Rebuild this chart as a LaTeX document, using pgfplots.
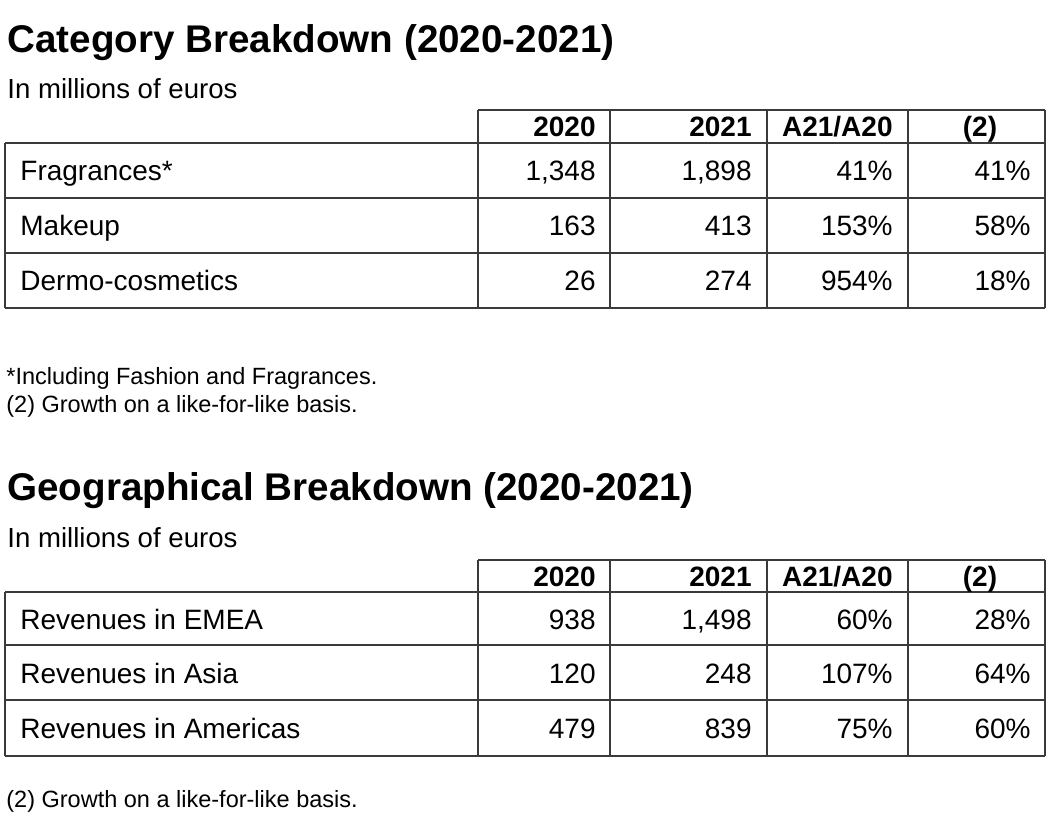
\documentclass[border=0pt]{standalone}
\usepackage{pgfplots}
\usepackage{pgfplotstable}
\pgfplotsset{compat=1.18}
\usepackage{fontspec}
\setmainfont{Liberation Sans}
\definecolor{rule}{HTML}{3A3A3A}
\tikzset{hd/.style={inner sep=0pt, font=\bfseries\fontsize{14}{16}\selectfont}}

\pgfplotstableread[col sep=semicolon, row sep=\\]{
y;label;a;b;r;l\\
180.5;Fragrances*;1,348;1,898;41;41\\
235.5;Makeup;163;413;153;58\\
290.5;Dermo-cosmetics;26;274;954;18\\
}\catA
\pgfplotstableread[col sep=semicolon, row sep=\\]{
y;label;a;b;r;l\\
629;Revenues in EMEA;938;1,498;60;28\\
683;Revenues in Asia;120;248;107;64\\
738;Revenues in Americas;479;839;75;60\\
}\geoA

\begin{document}
\begin{tikzpicture}
\begin{axis}[
  x=0.5pt, y=0.5pt, y dir=reverse,
  xmin=0, xmax=1048, ymin=0, ymax=822,
  hide axis, clip=false,
  every axis plot/.append style={mark=none},
  cell/.style={draw=none, nodes near coords, point meta=explicit symbolic,
     nodes near coords align={anchor=base east},
     every node near coord/.append style={inner sep=0pt, font=\fontsize{14}{16}\selectfont, text=black}},
  lcell/.style={draw=none, nodes near coords, point meta=explicit symbolic,
     nodes near coords align={anchor=base west},
     every node near coord/.append style={inner sep=0pt, font=\fontsize{14}{16}\selectfont, text=black}},
]
\addplot[draw=none] coordinates {(0,0) (1048,822)};

% ---- grid lines
\addplot[rule, line width=1pt, unbounded coords=jump] coordinates {
 (478,110) (1045,110) (nan,nan)
 (5,143) (1045,143) (nan,nan)
 (5,198) (1045,198) (nan,nan)
 (5,253) (1045,253) (nan,nan)
 (5,308) (1045,308) (nan,nan)
 (5,143) (5,308) (nan,nan)
 (478,110) (478,308) (nan,nan)
 (610,110) (610,308) (nan,nan)
 (767,110) (767,308) (nan,nan)
 (908,110) (908,308) (nan,nan)
 (1045,110) (1045,308)
};
\addplot[rule, line width=1pt, unbounded coords=jump] coordinates {
 (478,560) (1045,560) (nan,nan)
 (5,592) (1045,592) (nan,nan)
 (5,645) (1045,645) (nan,nan)
 (5,700) (1045,700) (nan,nan)
 (5,756) (1045,756) (nan,nan)
 (5,592) (5,756) (nan,nan)
 (478,560) (478,756) (nan,nan)
 (610,560) (610,756) (nan,nan)
 (767,560) (767,756) (nan,nan)
 (908,560) (908,756) (nan,nan)
 (1045,560) (1045,756)
};

% ---- table 1 cells
\addplot[lcell] table[x expr=20, y=y, meta=label] {\catA};
\addplot[cell] table[x expr=596, y=y, meta=a] {\catA};
\addplot[cell] table[x expr=752, y=y, meta=b] {\catA};
\addplot[cell, nodes near coords={\pgfplotspointmeta\%}] table[x expr=893, y=y, meta=r] {\catA};
\addplot[cell, nodes near coords={\pgfplotspointmeta\%}] table[x expr=1031, y=y, meta=l] {\catA};

% ---- table 2 cells
\addplot[lcell] table[x expr=20, y=y, meta=label] {\geoA};
\addplot[cell] table[x expr=596, y=y, meta=a] {\geoA};
\addplot[cell] table[x expr=752, y=y, meta=b] {\geoA};
\addplot[cell, nodes near coords={\pgfplotspointmeta\%}] table[x expr=893, y=y, meta=r] {\geoA};
\addplot[cell, nodes near coords={\pgfplotspointmeta\%}] table[x expr=1031, y=y, meta=l] {\geoA};

% ---- headers
\node[hd, anchor=base east] at (axis cs:596,137) {2020};
\node[hd, anchor=base east] at (axis cs:752,137) {2021};
\node[hd, anchor=base east] at (axis cs:893,137) {A21/A20};
\node[hd, anchor=base] at (axis cs:980,137) {(2)};
\node[hd, anchor=base east] at (axis cs:596,586.5) {2020};
\node[hd, anchor=base east] at (axis cs:752,586.5) {2021};
\node[hd, anchor=base east] at (axis cs:893,586.5) {A21/A20};
\node[hd, anchor=base] at (axis cs:980,586.5) {(2)};

% ---- titles and notes
\node[anchor=base west, inner sep=0pt, font=\bfseries\fontsize{19.3}{22}\selectfont] at (axis cs:7,53) {Category Breakdown (2020-2021)};
\node[anchor=base west, inner sep=0pt, font=\fontsize{13.8}{16}\selectfont] at (axis cs:7,99) {In millions of euros};
\node[anchor=base west, inner sep=0pt, font=\fontsize{11.75}{14}\selectfont] at (axis cs:6,385) {*Including Fashion and Fragrances.};
\node[anchor=base west, inner sep=0pt, font=\fontsize{11.75}{14}\selectfont] at (axis cs:6,413) {(2) Growth on a like-for-like basis.};
\node[anchor=base west, inner sep=0pt, font=\bfseries\fontsize{19.3}{22}\selectfont] at (axis cs:7,501) {Geographical Breakdown (2020-2021)};
\node[anchor=base west, inner sep=0pt, font=\fontsize{13.8}{16}\selectfont] at (axis cs:7,547) {In millions of euros};
\node[anchor=base west, inner sep=0pt, font=\fontsize{11.75}{14}\selectfont] at (axis cs:6,807) {(2) Growth on a like-for-like basis.};
\end{axis}
\end{tikzpicture}
\end{document}
